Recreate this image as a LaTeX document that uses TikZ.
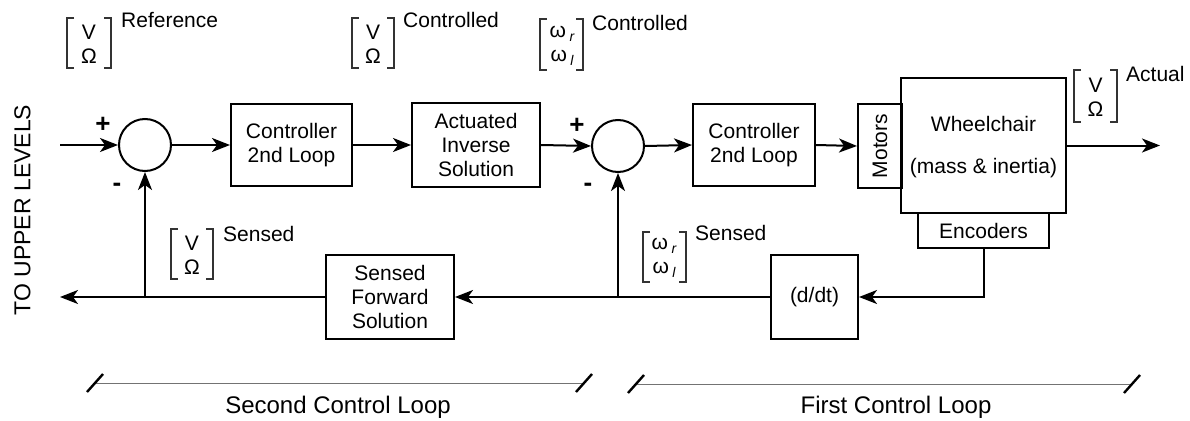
\documentclass[tikz,border=0pt]{standalone}
\usepackage{fontspec}
\setmainfont{Liberation Sans}
\usetikzlibrary{arrows.meta}
\newcommand\fs[2]{\fontsize{#1}{#2}\selectfont}
\newcommand\wsub[1]{ω\,\raisebox{-0.35ex}{\fs{14}{14}\itshape #1}}
\tikzset{
  blk/.style={draw, line width=2pt, inner sep=0pt, align=center, font=\fs{21}{24}},
  sumc/.style={draw, circle, line width=2pt, inner sep=0pt, minimum size=52pt},
  conn/.style={line width=2pt},
  arr/.style={line width=2pt, -{Stealth[length=18pt,width=14pt,inset=5pt]}},
  lbl/.style={inner sep=0pt, font=\fs{21}{24}},
  vec/.style={inner sep=0pt, align=center, font=\fs{21}{24}},
  sgn/.style={inner sep=0pt, font=\fs{26}{26}\bfseries},
  brkline/.style={line width=1.2pt, black!80},
  dimline/.style={line width=1pt, black!55},
  tick/.style={line width=2.4pt},
  big/.style={inner sep=0pt, font=\fs{24}{26}},
}
\newcommand\brk[4]{%
  \draw[brkline] (#1+7,#3) -- (#1,#3) -- (#1,#4) -- (#1+7,#4);
  \draw[brkline] (#2-7,#3) -- (#2,#3) -- (#2,#4) -- (#2-7,#4);}
\begin{document}
\begin{tikzpicture}[x=1pt,y=-1pt]
\useasboundingbox (0,0) rectangle (1190,420);

% summing junctions
\node[sumc] (s1) at (145,145) {};
\node[sumc] (s2) at (618,146) {};

% blocks
\node[blk, minimum width=121pt, minimum height=82pt] (c1) at (291.5,145) {Controller\\2nd Loop};
\node[blk, minimum width=128pt, minimum height=84pt] (ais) at (476,145) {Actuated\\Inverse\\Solution};
\node[blk, minimum width=122pt, minimum height=82pt] (c2) at (754,145) {Controller\\2nd Loop};
\node[blk, minimum width=44pt, minimum height=84pt] (mot) at (880,146) {\rotatebox{90}{Motors}};
\node[draw, line width=2pt, minimum width=165pt, minimum height=135pt, inner sep=0pt] (wc) at (983.5,145.5) {};
\node[lbl] (wct) at (983.5,124) {Wheelchair};
\node[lbl] (wcm) at (983.5,168) {(mass \& inertia)};
\node[blk, minimum width=131pt, minimum height=35pt] (enc) at (983.5,230.5) {Encoders};
\node[blk, minimum width=87pt, minimum height=84pt] (dd) at (814.5,297) {(d/dt)};
\node[blk, minimum width=128pt, minimum height=84pt] (sfs) at (390,297) {Sensed\\Forward\\Solution};

% coordinates
\coordinate (in) at (60,145);
\coordinate (out) at (1160,145.5);
\coordinate (fb1) at (983.5,297);
\coordinate (j2) at (618,297);
\coordinate (j1) at (145,297);
\coordinate (up) at (60,297);

% forward path
\draw[arr] (in) -- (s1.west);
\draw[arr] (s1.east) -- (c1.west);
\draw[arr] (c1.east) -- (ais.west);
\draw[arr] (ais.east) -- (s2.west);
\draw[arr] (s2.east) -- (c2.west);
\draw[arr] (c2.east) -- (mot.west);
\draw[arr] (wc.east) -- (out);

% feedback
\draw[arr] (enc.south) -- (fb1) -- (dd.east);
\draw[arr] (dd.west) -- (sfs.east);
\draw[arr] (j2) -- (s2.south);
\draw[arr] (sfs.west) -- (up);
\draw[arr] (j1) -- (s1.south);

% signs
\node[sgn] (p1) at (103,125) {+};
\node[sgn] (m1) at (117,187) {-};
\node[sgn] (p2) at (577,126) {+};
\node[sgn] (m2) at (588,187) {-};

% vector labels
\brk{67}{111}{18}{68}
\node[vec] (vref) at (89,44) {V\\Ω};
\node[lbl, anchor=west] (tref) at (121,20) {Reference};

\brk{352}{394}{18}{68}
\node[vec] (vctl) at (373,44) {V\\Ω};
\node[lbl, anchor=west] (tctl) at (403,20) {Controlled};

\brk{540}{583}{19}{70}
\node[vec] (wctl) at (562,46) {\wsub{r}\\\wsub{l}};
\node[lbl, anchor=west] (twctl) at (592,23) {Controlled};

\brk{1074}{1117}{70}{122}
\node[vec] (vact) at (1095.5,97) {V\\Ω};
\node[lbl, anchor=west] (tact) at (1126,74) {Actual};

\brk{171}{213}{229}{279}
\node[vec] (vsen) at (192,255) {V\\Ω};
\node[lbl, anchor=west] (tsen) at (223,234) {Sensed};

\brk{643}{686}{232}{282}
\node[vec] (wsen) at (664,258) {\wsub{r}\\\wsub{l}};
\node[lbl, anchor=west] (twsen) at (695,233) {Sensed};

% side text
\node[big, rotate=90, font=\fs{23}{26}] (tul) at (22.5,210) {TO UPPER LEVELS};

% dimension lines
\coordinate (d2a) at (95,383);
\coordinate (d2b) at (584,383);
\coordinate (d1a) at (636,384);
\coordinate (d1b) at (1132,384);
\draw[dimline] (d2a) -- (d2b);
\draw[dimline] (d1a) -- (d1b);
\foreach \p in {d2a,d2b,d1a,d1b}{
  \draw[tick] ([shift={(-8,9)}]\p) -- ([shift={(8,-9)}]\p);
}
\node[big, anchor=base] (t2) at (338,413) {Second Control Loop};
\node[big, anchor=base] (t1) at (896,413) {First Control Loop};
\end{tikzpicture}
\end{document}
